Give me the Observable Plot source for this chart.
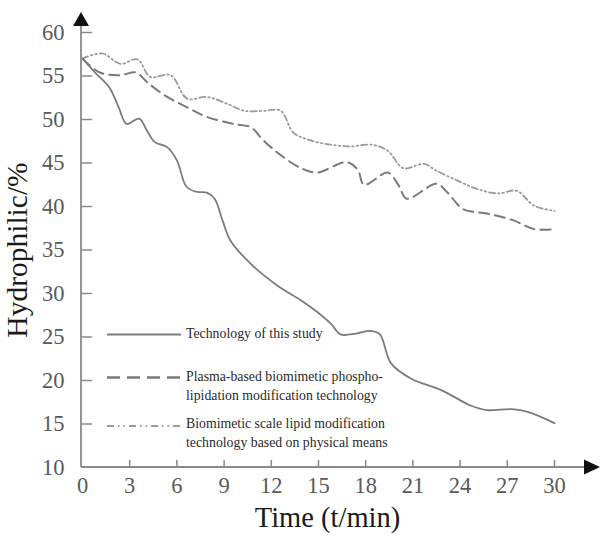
<!DOCTYPE html>
<html><head><meta charset="utf-8">
<script src="https://cdn.jsdelivr.net/npm/d3@7"></script>
<script src="https://cdn.jsdelivr.net/npm/@observablehq/plot@0.6"></script>
<style>
body{margin:0;background:#fff;}
#wrap{position:relative;width:600px;height:539px;}
.lg{position:absolute;font-family:"Liberation Serif",serif;font-size:13.8px;color:#2a2a2a;line-height:18.5px;white-space:nowrap;}
.lg svg{position:absolute;left:-81px;top:0;}
</style></head><body><div id="wrap"></div>
<script>
// Series: Technology of this study (solid)
const tStudy=[0,0.8,1.7,2.3,2.8,3.6,4.1,4.6,5.4,6.0,6.6,7.2,7.9,8.4,8.9,9.4,10.7,12.4,13.9,14.9,15.8,16.4,17.4,18.3,18.9,19.6,20.9,22.8,24.7,25.7,27.3,28.3,30];
const vStudy=[57,55.4,53.7,51.4,49.5,50.1,48.7,47.4,46.8,45.3,42.3,41.7,41.6,40.9,38.4,36.1,33.4,30.9,29.2,27.9,26.5,25.3,25.4,25.7,25.3,22.0,20.2,18.9,17.1,16.6,16.7,16.4,15.1];
// Series: Plasma-based (dashed)
const tPlasma=[0,1.1,2.4,3.4,4.1,5.2,6.65,7.9,9.6,10.7,11.5,12.6,13.9,14.9,16.8,17.5,17.9,19.4,20.1,20.6,22.5,23.2,24.2,25.7,27.4,28.7,30];
const vPlasma=[57,55.4,55.1,55.4,54.3,52.8,51.4,50.3,49.5,49.1,47.6,45.9,44.4,43.9,45.1,44.2,42.5,43.9,42.4,40.9,42.6,41.6,39.7,39.2,38.4,37.4,37.4];
// Series: physical means (dash-dot)
const tPhys=[0,1.25,2.4,3.5,4.3,5.6,6.65,7.9,9.2,10.3,11.5,12.6,13.4,14.5,15.8,17.0,18.4,19.4,20.4,21.7,22.5,23.8,25.1,26.4,27.6,28.7,30];
const vPhys=[57,57.6,56.4,56.9,54.9,55.1,52.4,52.6,51.8,51.0,51.0,51.0,48.5,47.6,47.1,46.9,47.1,46.4,44.4,44.9,44.1,43.0,42.0,41.5,41.8,40.1,39.5];

const xTickLabels=[0,3,6,9,12,15,18,21,24,27,30];
const yTickLabels=[10,15,20,25,30,35,40,45,50,55,60];
const seriesNames=["Technology of this study","Plasma-based biomimetic phospho-\nlipidation modification technology","Biomimetic scale lipid modification\ntechnology based on physical means"];
const xTitle="Time (t/min)";
const yTitle="Hydrophilic/%";

const toRows=(ts,vs)=>ts.map((t,i)=>({t,v:vs[i]}));
const sStudy=toRows(tStudy,vStudy), sPlasma=toRows(tPlasma,vPlasma), sPhys=toRows(tPhys,vPhys);

const styles=[
  {stroke:"#7c7c7c",strokeWidth:1.8,dash:null},
  {stroke:"#7a7a7a",strokeWidth:2,dash:"10,6"},
  {stroke:"#9a9a9a",strokeWidth:1.8,dash:"6,3,1.5,3,1.5,3"}
];
const tickShape={draw(ctx,l){ctx.moveTo(0,0);ctx.lineTo(0,-l);}};

const plot=Plot.plot({
  width:600,height:539,marginLeft:82,marginRight:46,marginTop:32,marginBottom:72,
  style:{fontFamily:"'Liberation Serif',serif",background:"#fff",overflow:"visible"},
  x:{domain:[0,30]},
  y:{domain:[10,60]},
  marks:[
    Plot.axisY(yTickLabels,{tickSize:0,tickPadding:18,fontSize:22.5,color:"#5a5a5a",label:null}),
    Plot.axisX(xTickLabels,{tickSize:0,tickPadding:10,fontSize:22.5,color:"#5a5a5a",label:null}),
    Plot.vector(yTickLabels.slice(1),{x:()=>0,y:d=>d,length:9,rotate:90,anchor:"start",shape:tickShape,stroke:"#8a8a8a",strokeWidth:1.5}),
    Plot.vector(xTickLabels.slice(1),{x:d=>d,y:()=>10,length:7,rotate:0,anchor:"start",shape:tickShape,stroke:"#8a8a8a",strokeWidth:1.5}),
    Plot.line(sPhys,{x:"t",y:"v",curve:"catmull-rom",stroke:styles[2].stroke,strokeWidth:styles[2].strokeWidth,strokeDasharray:styles[2].dash}),
    Plot.line(sPlasma,{x:"t",y:"v",curve:"catmull-rom",stroke:styles[1].stroke,strokeWidth:styles[1].strokeWidth,strokeDasharray:styles[1].dash}),
    Plot.line(sStudy,{x:"t",y:"v",curve:"catmull-rom",stroke:styles[0].stroke,strokeWidth:styles[0].strokeWidth}),
    Plot.text([yTitle],{frameAnchor:"left",textAnchor:"middle",dx:-65,dy:0,rotate:-90,fontSize:29.5,fill:"#1a1a1a"}),
    Plot.text([xTitle],{frameAnchor:"bottom",dx:9,dy:59,fontSize:28.5,fill:"#1a1a1a"})
  ]
});
document.getElementById("wrap").appendChild(plot);

// axis lines with arrowheads, derived from the scales
const xs=plot.scale("x"), ys=plot.scale("y");
const svg=d3.select(plot);
const ax=xs.range[0]-1, ay=ys.range[0];
const g=svg.append("g");
g.append("line").attr("x1",ax).attr("x2",ax).attr("y1",ay).attr("y2",ys.range[1]-14).attr("stroke","#8a8a8a").attr("stroke-width",1.8);
g.append("line").attr("x1",ax).attr("x2",xs.range[1]+38).attr("y1",ay).attr("y2",ay).attr("stroke","#8a8a8a").attr("stroke-width",1.8);
g.append("path").attr("d",`M${ax},${ys.range[1]-20}l-8,14h16z`).attr("fill","#111");
g.append("path").attr("d",`M${xs.range[1]+46},${ay}l-16,-7.5v15z`).attr("fill","#111");

// legend inside plot area
const wrap=document.getElementById("wrap");
const legendY=[25.3,20.3,14.9];
seriesNames.forEach((name,i)=>{
  const d=document.createElement("div");
  d.className="lg";
  const top=ys.apply(legendY[i])-9.25;
  d.style.left=(xs.apply(0)+104)+"px";
  d.style.top=top+"px";
  d.innerHTML=name.split("\n").map(s=>`<div>${s}</div>`).join("");
  const s=styles[i];
  d.insertAdjacentHTML("afterbegin",`<svg width="78" height="19"><line x1="2" x2="76" y1="${i==2?11:9.5}" y2="${i==2?11:9.5}" stroke="${s.stroke}" stroke-width="${s.strokeWidth+0.4}" ${s.dash?`stroke-dasharray="${i==1?"13,7":"7,4,1.5,4,1.5,4"}"`:""}/></svg>`);
  wrap.appendChild(d);
});
</script></body></html>
